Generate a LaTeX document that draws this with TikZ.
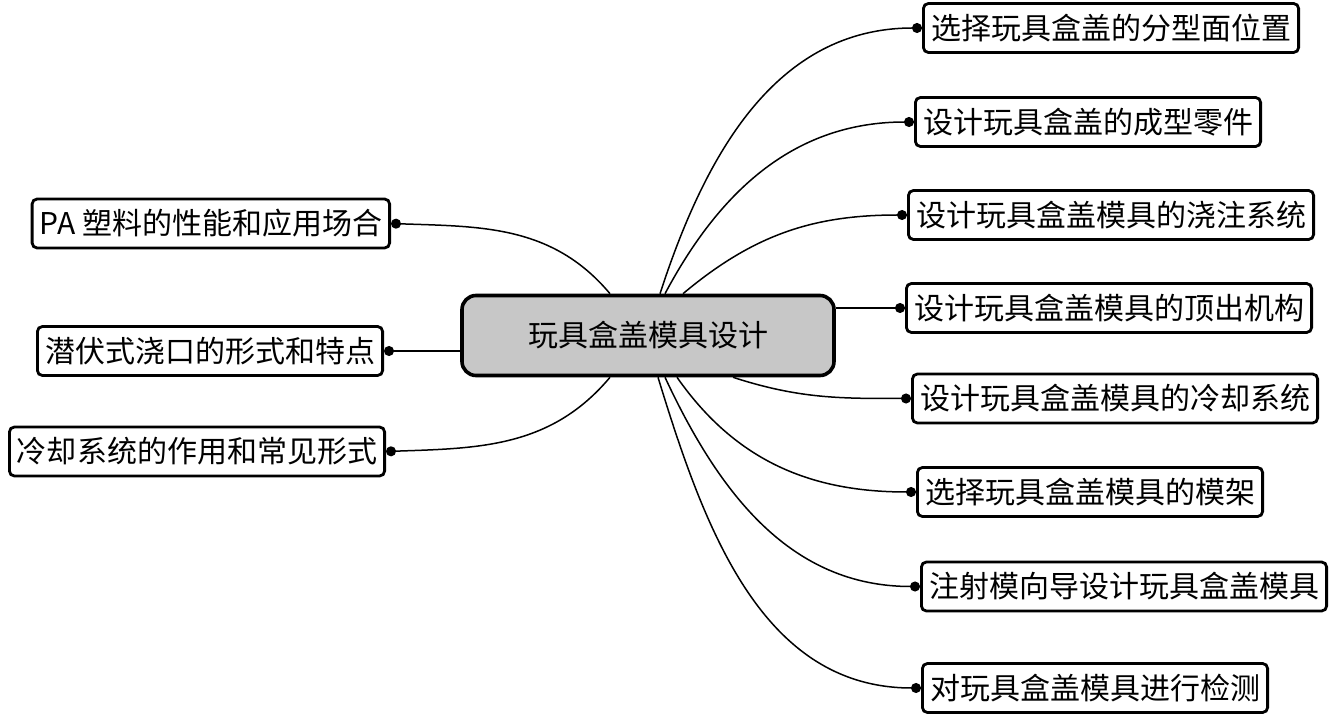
\documentclass[tikz,border=0pt]{standalone}
\usepackage{fontspec}
\setmainfont{Noto Sans CJK SC}
\usetikzlibrary{calc, arrows.meta}

\begin{document}
\begin{tikzpicture}[x=0.5pt, y=-0.5pt, >=Stealth]
        % Definición de estilos para el tema central, las ramas y los enlaces
        \tikzstyle{topic} = [draw, line width=1.8pt, rounded corners=7pt, fill=black!22, minimum width=186pt, minimum height=40pt, font=\fontsize{15}{18}\selectfont]
        \tikzstyle{branch} = [draw, line width=1.4pt, rounded corners=2.5pt, inner xsep=3.8pt, minimum height=24.5pt, font=\fontsize{15}{18}\selectfont]
        \tikzstyle{link} = [line width=0.75pt, -{Circle[length=5pt]}] % Enlace con punto al final

        \useasboundingbox (0,0) rectangle (1331,715);

        % Definición de nodos
        \node [topic] (mainTopic) at (648,335.5) {玩具盒盖模具设计};
        \node [branch, anchor=west] (right1) at (922,28) {选择玩具盒盖的分型面位置};
        \node [branch, anchor=west] (right2) at (914,122) {设计玩具盒盖的成型零件};
        \node [branch, anchor=west] (right3) at (907,215) {设计玩具盒盖模具的浇注系统};
        \node [branch, anchor=west] (right4) at (905,308) {设计玩具盒盖模具的顶出机构};
        \node [branch, anchor=west] (right5) at (911,398.5) {设计玩具盒盖模具的冷却系统};
        \node [branch, anchor=west] (right6) at (916,492) {选择玩具盒盖模具的模架};
        \node [branch, anchor=west] (right7) at (920,586.5) {注射模向导设计玩具盒盖模具};
        \node [branch, anchor=west] (right8) at (921,688) {对玩具盒盖模具进行检测};
        \node [branch, anchor=east] (left1) at (391,223.5) {PA 塑料的性能和应用场合};
        \node [branch, anchor=east] (left2) at (384,351) {潜伏式浇口的形式和特点};
        \node [branch, anchor=east] (left3) at (386,451.5) {冷却系统的作用和常见形式};

        % Conexiones entre nodos
        \draw [link] ($(mainTopic.north)+(12,0)$) to [out=72, in=180] (right1.west);
        \draw [link] ($(mainTopic.north)+(17,0)$) to [out=62, in=180] (right2.west);
        \draw [link] ($(mainTopic.north)+(35,0)$) to [out=40, in=180] (right3.west);
        \draw [link] (right4.west -| mainTopic.east) -- (right4.west);
        \draw [link] ($(mainTopic.south)+(85,0)$) to [out=-18, in=180] (right5.west);
        \draw [link] ($(mainTopic.south)+(29,0)$) to [out=-55, in=180] (right6.west);
        \draw [link] ($(mainTopic.south)+(17,0)$) to [out=-65, in=180] (right7.west);
        \draw [link] ($(mainTopic.south)+(10,0)$) to [out=-73, in=180] (right8.west);
        \draw [link] ($(mainTopic.north)+(-38,0)$) to [out=130, in=-2] (left1.east);
        \draw [link] (left2.east -| mainTopic.west) -- (left2.east);
        \draw [link] ($(mainTopic.south)+(-38,0)$) to [out=-130, in=2] (left3.east);
      \end{tikzpicture}
\end{document}
